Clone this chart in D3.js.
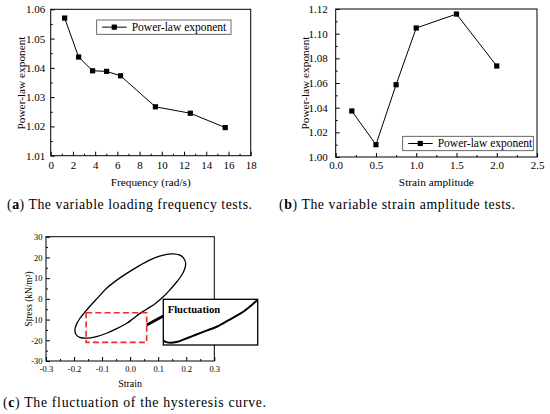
<!DOCTYPE html>
<html>
<head>
<meta charset="utf-8">
<script src="https://cdn.jsdelivr.net/npm/d3@7"></script>
<style>
  html, body { margin: 0; padding: 0; background: #fff; }
  svg { display: block; }
</style>
</head>
<body>
<script>
// ---------------- DATA ----------------
// (a) variable loading frequency tests
const freqX = [1.257, 2.513, 3.770, 5.027, 6.283, 9.425, 12.566, 15.708];
const freqExp = [1.0570, 1.0437, 1.0390, 1.0388, 1.0373, 1.0267, 1.0245, 1.0196];
const freqTicks = [0, 2, 4, 6, 8, 10, 12, 14, 16, 18];
const freqExpTicks = [1.01, 1.02, 1.03, 1.04, 1.05, 1.06];

// (b) variable strain amplitude tests
const ampX = [0.2, 0.5, 0.75, 1.0, 1.5, 2.0];
const ampExp = [1.0373, 1.0100, 1.0586, 1.1046, 1.1159, 1.0738];
const ampTicks = [0.0, 0.5, 1.0, 1.5, 2.0, 2.5];
const ampExpTicks = [1.00, 1.02, 1.04, 1.06, 1.08, 1.10, 1.12];

// (c) hysteresis loop (closed)
const loopStrain = [-0.197, -0.191, -0.180, -0.165, -0.145, -0.115, -0.084, -0.050, -0.012, 0.030,
                    0.071, 0.105, 0.130, 0.154, 0.175, 0.190, 0.198, 0.194, 0.184, 0.165,
                    0.142, 0.118, 0.090, 0.060, 0.035, 0.010, -0.012, -0.048, -0.084, -0.120,
                    -0.155, -0.180, -0.193];
const loopStress = [-15.0, -12.2, -9.6, -7.0, -3.8, 0.6, 5.1, 8.8, 12.3, 15.8,
                    18.8, 20.6, 21.5, 21.7, 21.2, 19.8, 17.2, 14.3, 11.5, 8.0,
                    4.4, 1.0, -2.2, -4.9, -7.0, -9.6, -11.8, -14.4, -16.6, -18.2,
                    -19.0, -18.6, -17.2];
// magnified branch shown in the inset
const insetStrain = [-0.157, -0.150, -0.140, -0.125, -0.111, -0.092, -0.073, -0.054, -0.035, -0.020, -0.004, 0.011, 0.026, 0.042, 0.058];
const insetStress = [-19.6, -20.1, -20.3, -20.0, -19.3, -18.3, -17.3, -16.3, -15.3, -14.2, -13.0, -11.8, -10.6, -8.9, -6.9];
const strainTicks = [-0.3, -0.2, -0.1, 0.0, 0.1, 0.2, 0.3];
const stressTicks = [-30, -20, -10, 0, 10, 20, 30];

// annotation extents (data units of panel c)
const zoomBox = { x0: -0.157, x1: 0.059, y0: -21, y1: -6.7 };

const seriesName = "Power-law exponent";

// ---------------- DRAW ----------------
const FONT = '"Liberation Serif", "Times New Roman", Tinos, serif';
const W = 550, H = 414;
const svg = d3.select("body").append("svg").attr("width", W).attr("height", H)
  .style("font-family", FONT);

function minorBetween(ticks) {
  const out = [];
  for (let i = 0; i < ticks.length - 1; i++) out.push((ticks[i] + ticks[i + 1]) / 2);
  return out;
}
const hy = s => s.replace(/\u2212/g, "-");

function styleText(sel, fs) {
  sel.style("font-family", FONT).style("font-size", fs + "px").attr("fill", "#000");
}

function drawAxes(x, y, o) {
  const g = svg.append("g");
  const [x0, x1] = x.range(), [y0, y1] = y.range();
  g.append("g").attr("transform", `translate(0,${y0})`)
    .call(d3.axisBottom(x).tickValues(minorBetween(o.xt)).tickSize(-2).tickSizeOuter(0).tickFormat(""))
    .call(a => a.select(".domain").remove());
  g.append("g").attr("transform", `translate(${x0},0)`)
    .call(d3.axisLeft(y).tickValues(minorBetween(o.yt)).tickSize(-2).tickSizeOuter(0).tickFormat(""))
    .call(a => a.select(".domain").remove());
  const bx = g.append("g").attr("transform", `translate(0,${y0})`)
    .call(d3.axisBottom(x).tickValues(o.xt).tickFormat(o.fx).tickSize(-4).tickSizeOuter(0).tickPadding(o.px));
  const ly = g.append("g").attr("transform", `translate(${x0},0)`)
    .call(d3.axisLeft(y).tickValues(o.yt).tickFormat(o.fy).tickSize(-4).tickSizeOuter(0).tickPadding(o.py));
  [bx, ly].forEach(a => styleText(a.selectAll("text"), o.fs));
  g.selectAll(".domain").remove();
  g.selectAll("line").attr("stroke", "#000").attr("stroke-width", 1);
  g.append("rect").attr("x", x0).attr("y", y1).attr("width", x1 - x0).attr("height", y0 - y1)
    .attr("fill", "none").attr("stroke", "#000").attr("stroke-width", 1);
  return g;
}

function lineSeries(x, y, xs, ys) {
  const pts = xs.map((v, i) => [x(v), y(ys[i])]);
  svg.append("path").attr("d", d3.line()(pts))
    .attr("fill", "none").attr("stroke", "#000").attr("stroke-width", 1);
  svg.append("g").selectAll("rect").data(pts).join("rect")
    .attr("x", d => d[0] - 2.6).attr("y", d => d[1] - 2.6)
    .attr("width", 5.2).attr("height", 5.2).attr("fill", "#000");
}

function legend(bx, by, bw, bh) {
  const g = svg.append("g");
  g.append("rect").attr("x", bx).attr("y", by).attr("width", bw).attr("height", bh)
    .attr("fill", "#fff").attr("stroke", "#444").attr("stroke-width", 0.8);
  const cy = by + bh / 2;
  g.append("line").attr("x1", bx + 5.5).attr("x2", bx + 30).attr("y1", cy).attr("y2", cy)
    .attr("stroke", "#000").attr("stroke-width", 1);
  g.append("rect").attr("x", bx + 17.6 - 2.6).attr("y", cy - 2.6).attr("width", 5.2).attr("height", 5.2).attr("fill", "#000");
  styleText(g.append("text").attr("x", bx + 35).attr("y", cy + 3.9).text(seriesName), 11.5);
}

function yTitle(tx, ty, txt, fs) {
  styleText(svg.append("text").attr("transform", `translate(${tx},${ty}) rotate(-90)`)
    .attr("text-anchor", "middle").text(txt), fs);
}
function xTitle(tx, ty, txt, fs) {
  styleText(svg.append("text").attr("x", tx).attr("y", ty).attr("text-anchor", "middle").text(txt), fs);
}
function caption(tx, ty, letter, rest, len) {
  const t = svg.append("text").attr("x", tx).attr("y", ty)
    .style("font-family", FONT).style("font-size", "13.8px").attr("fill", "#000")
    .attr("textLength", len).attr("lengthAdjust", "spacing");
  t.append("tspan").text("(");
  t.append("tspan").attr("font-weight", "bold").text(letter);
  t.append("tspan").text(") " + rest);
}

// ----- panel (a) -----
{
  const x = d3.scaleLinear().domain([0, 18]).range([50.7, 250.7]);
  const y = d3.scaleLinear().domain([1.01, 1.06]).range([155.7, 9.3]);
  drawAxes(x, y, { xt: freqTicks, yt: freqExpTicks, fx: d3.format("d"), fy: d3.format(".2f"), fs: 11, px: 5.5, py: 5.5 });
  lineSeries(x, y, freqX, freqExp);
  legend(96.7, 20, 134.3, 14.3);
  yTitle(25, 83, "Power-law exponent", 11.3);
  xTitle(x(9), 186, "Frequency (rad/s)", 11.3);
  caption(7, 209, "a", "The variable loading frequency tests.", 245);
}

// ----- panel (b) -----
{
  const x = d3.scaleLinear().domain([0, 2.5]).range([335.7, 537]);
  const y = d3.scaleLinear().domain([1.00, 1.12]).range([157, 9]);
  drawAxes(x, y, { xt: ampTicks, yt: ampExpTicks, fx: d3.format(".1f"), fy: d3.format(".2f"), fs: 11, px: 4.5, py: 8 });
  lineSeries(x, y, ampX, ampExp);
  legend(402.7, 136.3, 130.6, 14.4);
  yTitle(309, 83, "Power-law exponent", 11.3);
  xTitle(x(1.25), 186.3, "Strain amplitude", 11.3);
  caption(279, 209, "b", "The variable strain amplitude tests.", 236);
}

// ----- panel (c) -----
{
  const x = d3.scaleLinear().domain([-0.3, 0.3]).range([46, 214.3]);
  const y = d3.scaleLinear().domain([-30, 30]).range([361, 236.7]);
  drawAxes(x, y, { xt: strainTicks, yt: stressTicks, fx: v => hy(d3.format(".1f")(v)), fy: v => hy(d3.format("d")(v)), fs: 8.5, px: 4.7, py: 3.5 });

  const pts = loopStrain.map((v, i) => [x(v), y(loopStress[i])]);
  svg.append("path").attr("d", d3.line().curve(d3.curveCatmullRomClosed.alpha(0.5))(pts))
    .attr("fill", "none").attr("stroke", "#000").attr("stroke-width", 1.3);

  svg.append("rect").attr("x", x(zoomBox.x0)).attr("y", y(zoomBox.y1))
    .attr("width", x(zoomBox.x1) - x(zoomBox.x0)).attr("height", y(zoomBox.y0) - y(zoomBox.y1))
    .attr("fill", "none").attr("stroke", "#ee2a2a").attr("stroke-width", 1.6).attr("stroke-dasharray", "6,3.2");

  const ix0 = 163.3, ix1 = 257.7, iy0 = 299.3, iy1 = 345;
  svg.append("line").attr("x1", x(zoomBox.x1)).attr("y1", 325).attr("x2", ix0).attr("y2", 316)
    .attr("stroke", "#000").attr("stroke-width", 2.6);
  svg.append("rect").attr("x", ix0).attr("y", iy0).attr("width", ix1 - ix0).attr("height", iy1 - iy0)
    .attr("fill", "#fff").attr("stroke", "#000").attr("stroke-width", 1.3);
  const xi = d3.scaleLinear().domain([zoomBox.x0, zoomBox.x1]).range([ix0, ix1]);
  const yi = d3.scaleLinear().domain([zoomBox.y0, zoomBox.y1]).range([iy1, iy0]);
  svg.append("clipPath").attr("id", "insetClip").append("rect")
    .attr("x", ix0).attr("y", iy0).attr("width", ix1 - ix0).attr("height", iy1 - iy0);
  svg.append("path").attr("clip-path", "url(#insetClip)")
    .attr("d", d3.line().curve(d3.curveCatmullRom)(insetStrain.map((v, i) => [xi(v), yi(insetStress[i])])))
    .attr("fill", "none").attr("stroke", "#000").attr("stroke-width", 2);
  styleText(svg.append("text").attr("x", ix0 + 4.4).attr("y", 313).attr("font-weight", "bold").text("Fluctuation"), 10.6);

  yTitle(31.5, 299, "Stress (kN/m²)", 9.4);
  xTitle(x(0), 386.5, "Strain", 10);
  caption(3, 407, "c", "The fluctuation of the hysteresis curve.", 263);
}
</script>
</body>
</html>
